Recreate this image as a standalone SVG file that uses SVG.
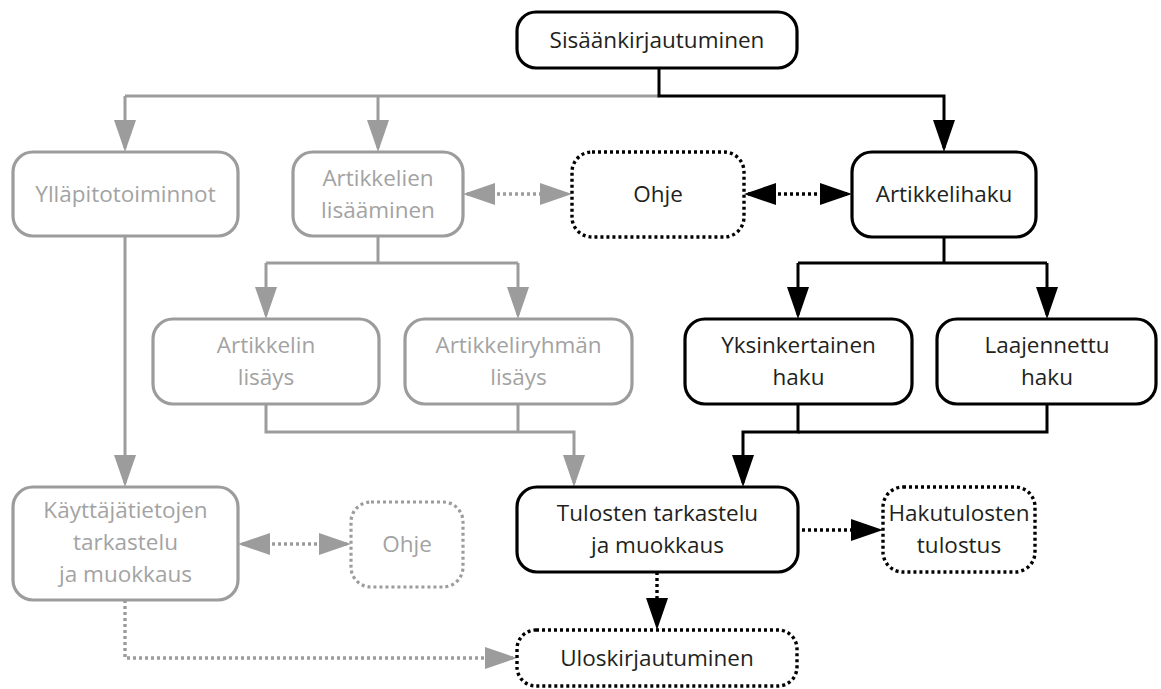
<svg xmlns="http://www.w3.org/2000/svg" width="1161" height="689" viewBox="0 0 1161 689">
  <style>
    text { font-family: "Open Sans", "Noto Sans", "Liberation Sans", sans-serif; font-size: 22.5px; text-anchor: middle; }
    .t-dark { fill: #231f20; }
    .t-grey { fill: #a3a3a3; }
    .box { fill: #ffffff; stroke-width: 3.2; }
    .box-dark { stroke: #000000; }
    .box-grey { stroke: #9c9c9c; }
    .box-dot-dark { fill: #ffffff; stroke: #000000; stroke-width: 3.4; stroke-dasharray: 3 3; }
    .box-dot-grey { fill: #ffffff; stroke: #9c9c9c; stroke-width: 3.2; stroke-dasharray: 3 3; }
    .ln { fill: none; stroke-width: 3; }
    .ln-dark { stroke: #000000; }
    .ln-grey { stroke: #9c9c9c; }
    .dot { stroke-dasharray: 3 3; stroke-width: 3.4; }
  </style>
  <defs>
    <marker id="ah-dark" markerUnits="userSpaceOnUse" markerWidth="32" markerHeight="22" viewBox="0 0 32 22" refX="28" refY="11" orient="auto-start-reverse">
      <path d="M0,0 L32,11 L0,22 z" fill="#000000"/>
    </marker>
    <marker id="ah-grey" markerUnits="userSpaceOnUse" markerWidth="32" markerHeight="22" viewBox="0 0 32 22" refX="28" refY="11" orient="auto-start-reverse">
      <path d="M0,0 L32,11 L0,22 z" fill="#9c9c9c"/>
    </marker>
  </defs>

  <!-- connectors -->
  <g id="connectors">
    <!-- grey branch: maintenance and article adding -->
    <path class="ln ln-grey" d="M125,96 H659"/>
    <path class="ln ln-grey" d="M125,96 V148" marker-end="url(#ah-grey)"/>
    <path class="ln ln-grey" d="M378,96 V148" marker-end="url(#ah-grey)"/>
    <path class="ln ln-grey" d="M378,236 V263"/>
    <path class="ln ln-grey" d="M266,263 H518"/>
    <path class="ln ln-grey" d="M266,263 V315" marker-end="url(#ah-grey)"/>
    <path class="ln ln-grey" d="M518,263 V315" marker-end="url(#ah-grey)"/>
    <path class="ln ln-grey" d="M266,404 V432 H574 V483" marker-end="url(#ah-grey)"/>
    <path class="ln ln-grey" d="M518,404 V432"/>
    <path class="ln ln-grey" d="M125,236 V483" marker-end="url(#ah-grey)"/>
    <path class="ln ln-grey dot" d="M467,194 H568" marker-start="url(#ah-grey)" marker-end="url(#ah-grey)"/>
    <path class="ln ln-grey dot" d="M242,544 H347" marker-start="url(#ah-grey)" marker-end="url(#ah-grey)"/>
    <path class="ln ln-grey dot" d="M125,600 V658 H513" marker-end="url(#ah-grey)"/>

    <!-- dark branch: search -->
    <path class="ln ln-dark" d="M659,68 V96 H944 V148" marker-end="url(#ah-dark)"/>
    <path class="ln ln-dark" d="M944,237 V263"/>
    <path class="ln ln-dark" d="M798,263 H1047"/>
    <path class="ln ln-dark" d="M798,263 V315" marker-end="url(#ah-dark)"/>
    <path class="ln ln-dark" d="M1047,263 V315" marker-end="url(#ah-dark)"/>
    <path class="ln ln-dark" d="M798,404 V432 H743 V483" marker-end="url(#ah-dark)"/>
    <path class="ln ln-dark" d="M1047,404 V432 H798"/>
    <path class="ln ln-dark dot" d="M748,194 H848" marker-start="url(#ah-dark)" marker-end="url(#ah-dark)"/>
    <path class="ln ln-dark dot" d="M802,530 H879" marker-end="url(#ah-dark)"/>
    <path class="ln ln-dark dot" d="M657,572 V626" marker-end="url(#ah-dark)"/>
  </g>

  <!-- nodes -->
  <g id="sisaankirjautuminen">
    <rect class="box box-dark" x="517" y="12" width="280" height="56" rx="19"/>
    <text class="t-dark" x="657" y="48">Sisäänkirjautuminen</text>
  </g>

  <g id="yllapitotoiminnot">
    <rect class="box box-grey" x="13" y="152" width="225" height="84" rx="20"/>
    <text class="t-grey" x="125.5" y="202">Ylläpitotoiminnot</text>
  </g>

  <g id="artikkelien-lisaaminen">
    <rect class="box box-grey" x="293" y="152" width="170" height="84" rx="20"/>
    <text class="t-grey" x="378" y="186">Artikkelien</text>
    <text class="t-grey" x="378" y="218">lisääminen</text>
  </g>

  <g id="ohje-haku">
    <rect class="box-dot-dark" x="572" y="152" width="172" height="85" rx="20"/>
    <text class="t-dark" x="658" y="202">Ohje</text>
  </g>

  <g id="artikkelihaku">
    <rect class="box box-dark" x="852" y="152" width="184" height="85" rx="20"/>
    <text class="t-dark" x="944" y="202">Artikkelihaku</text>
  </g>

  <g id="artikkelin-lisays">
    <rect class="box box-grey" x="153" y="319" width="226" height="85" rx="20"/>
    <text class="t-grey" x="266" y="353">Artikkelin</text>
    <text class="t-grey" x="266" y="385">lisäys</text>
  </g>

  <g id="artikkeliryhman-lisays">
    <rect class="box box-grey" x="405" y="319" width="227" height="85" rx="20"/>
    <text class="t-grey" x="518.5" y="353">Artikkeliryhmän</text>
    <text class="t-grey" x="518.5" y="385">lisäys</text>
  </g>

  <g id="yksinkertainen-haku">
    <rect class="box box-dark" x="685" y="319" width="227" height="85" rx="20"/>
    <text class="t-dark" x="798.5" y="353">Yksinkertainen</text>
    <text class="t-dark" x="798.5" y="385">haku</text>
  </g>

  <g id="laajennettu-haku">
    <rect class="box box-dark" x="937" y="319" width="219" height="85" rx="20"/>
    <text class="t-dark" x="1047" y="353">Laajennettu</text>
    <text class="t-dark" x="1047" y="385">haku</text>
  </g>

  <g id="kayttajatietojen-tarkastelu">
    <rect class="box box-grey" x="13" y="487" width="225" height="113" rx="20"/>
    <text class="t-grey" x="125.5" y="518">Käyttäjätietojen</text>
    <text class="t-grey" x="125.5" y="550">tarkastelu</text>
    <text class="t-grey" x="125.5" y="582">ja muokkaus</text>
  </g>

  <g id="ohje-yllapito">
    <rect class="box-dot-grey" x="351" y="502" width="112" height="85" rx="20"/>
    <text class="t-grey" x="407" y="552">Ohje</text>
  </g>

  <g id="tulosten-tarkastelu">
    <rect class="box box-dark" x="517" y="487" width="281" height="85" rx="20"/>
    <text class="t-dark" x="657.5" y="521">Tulosten tarkastelu</text>
    <text class="t-dark" x="657.5" y="553">ja muokkaus</text>
  </g>

  <g id="hakutulosten-tulostus">
    <rect class="box-dot-dark" x="883" y="487" width="152" height="85" rx="20"/>
    <text class="t-dark" x="959" y="521">Hakutulosten</text>
    <text class="t-dark" x="959" y="553">tulostus</text>
  </g>

  <g id="uloskirjautuminen">
    <rect class="box-dot-dark" x="517" y="630" width="280" height="56" rx="19"/>
    <text class="t-dark" x="657" y="666">Uloskirjautuminen</text>
  </g>
</svg>
